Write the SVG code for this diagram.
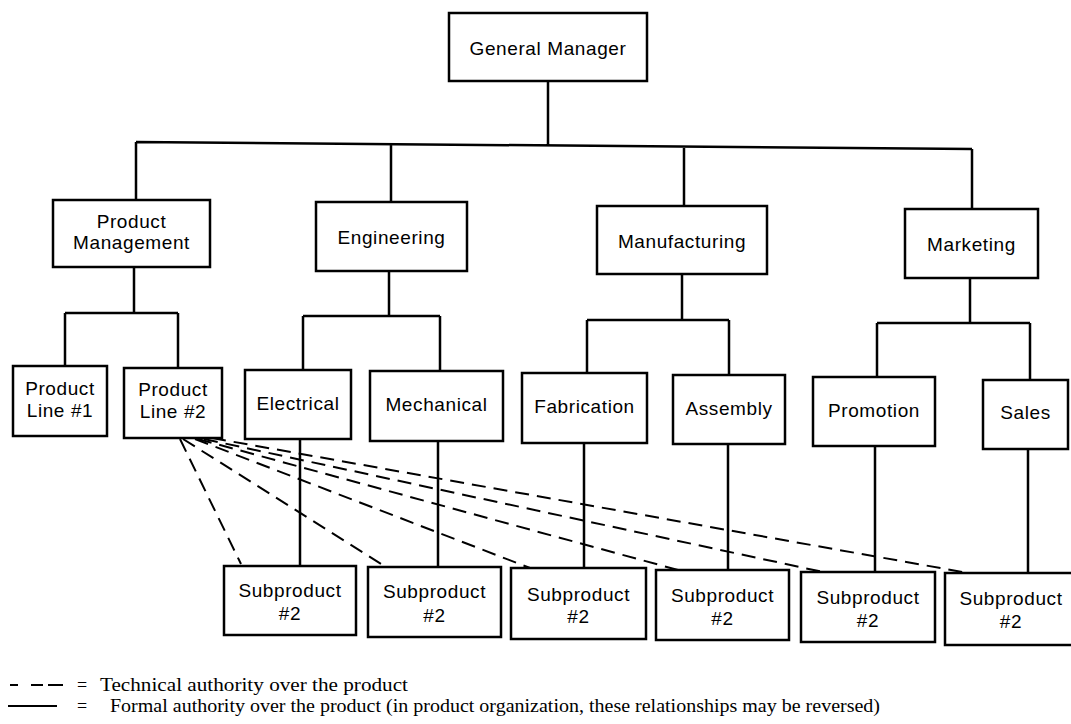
<svg xmlns="http://www.w3.org/2000/svg" width="1071" height="724" viewBox="0 0 1071 724">
  <style>
    .box { fill: #fff; stroke: #000; stroke-width: 2.5; }
    .lbl { font-family: "Liberation Sans", Arial, sans-serif; font-size: 19px; letter-spacing: 0.6px; text-anchor: middle; fill: #000; }
    .solid { fill: none; stroke: #000; stroke-width: 2.5; }
    .dash { fill: none; stroke: #000; stroke-width: 2; stroke-dasharray: 14 8; }
    .legend { font-family: "Liberation Serif", "Times New Roman", serif; font-size: 18px; fill: #000; }
  </style>
  <rect width="1071" height="724" fill="#fff"/>

  <!-- reporting lines (solid) and technical authority (dashed) -->
  <g id="connectors">
    <path class="solid" d="M548 81 V145.4 M136 142 L972 149 M136 142 V200 M391 144.1 V202 M684 146.6 V206 M972 149 V209"/>
    <path class="solid" d="M134 267 V313 M65 313 H178 M65 313 V366 M178 313 V368"/>
    <path class="solid" d="M389 271 V316 M303 316 H440 M303 316 V370 M440 316 V371"/>
    <path class="solid" d="M682 274 V320 M587 320 H729 M587 320 V373 M729 320 V375"/>
    <path class="solid" d="M970 278 V323 M877 323 H1030 M877 323 V377 M1030 323 V380"/>
    <path class="solid" d="M300 439 V566 M438 441 V567 M584 443 V568 M728 444 V570 M875 446 V572 M1028 449 V573"/>
    <path class="dash" d="M180 439 L241 564"/>
    <path class="dash" d="M183 439 L386 567"/>
    <path class="dash" d="M195 439 L530 568"/>
    <path class="dash" d="M198 439 L678 570"/>
    <path class="dash" d="M204 439 L823 572"/>
    <path class="dash" d="M212 438 L968 573"/>
  </g>

  <g id="general-manager">
    <rect class="box" x="449" y="13" width="198" height="68"/>
    <text class="lbl" x="548" y="55">General Manager</text>
  </g>

  <g id="product-management">
    <rect class="box" x="53" y="200" width="157" height="67"/>
    <text class="lbl" x="131.5" y="228">Product</text>
    <text class="lbl" x="131.5" y="249">Management</text>
  </g>
  <g id="engineering">
    <rect class="box" x="316" y="202" width="151" height="69"/>
    <text class="lbl" x="391.5" y="244">Engineering</text>
  </g>
  <g id="manufacturing">
    <rect class="box" x="597" y="206" width="170" height="68"/>
    <text class="lbl" x="682" y="248">Manufacturing</text>
  </g>
  <g id="marketing">
    <rect class="box" x="905" y="209" width="133" height="69"/>
    <text class="lbl" x="971.5" y="251">Marketing</text>
  </g>

  <g id="product-line-1">
    <rect class="box" x="13" y="366" width="94" height="70"/>
    <text class="lbl" x="60" y="395">Product</text>
    <text class="lbl" x="60" y="417">Line #1</text>
  </g>
  <g id="product-line-2">
    <rect class="box" x="124" y="368" width="98" height="70"/>
    <text class="lbl" x="173" y="396">Product</text>
    <text class="lbl" x="173" y="418">Line #2</text>
  </g>
  <g id="electrical">
    <rect class="box" x="245" y="370" width="106" height="69"/>
    <text class="lbl" x="298" y="410">Electrical</text>
  </g>
  <g id="mechanical">
    <rect class="box" x="370" y="371" width="133" height="70"/>
    <text class="lbl" x="436.5" y="411">Mechanical</text>
  </g>
  <g id="fabrication">
    <rect class="box" x="522" y="373" width="125" height="70"/>
    <text class="lbl" x="584.5" y="413">Fabrication</text>
  </g>
  <g id="assembly">
    <rect class="box" x="673" y="375" width="112" height="69"/>
    <text class="lbl" x="729" y="415">Assembly</text>
  </g>
  <g id="promotion">
    <rect class="box" x="813" y="377" width="122" height="69"/>
    <text class="lbl" x="874" y="417">Promotion</text>
  </g>
  <g id="sales">
    <rect class="box" x="983" y="380" width="85" height="69"/>
    <text class="lbl" x="1025.5" y="419">Sales</text>
  </g>

  <g id="subproduct-electrical">
    <rect class="box" x="224" y="566" width="132" height="69"/>
    <text class="lbl" x="290" y="597">Subproduct</text>
    <text class="lbl" x="290" y="620">#2</text>
  </g>
  <g id="subproduct-mechanical">
    <rect class="box" x="368" y="567" width="133" height="70"/>
    <text class="lbl" x="434.5" y="598">Subproduct</text>
    <text class="lbl" x="434.5" y="622">#2</text>
  </g>
  <g id="subproduct-fabrication">
    <rect class="box" x="511" y="568" width="135" height="71"/>
    <text class="lbl" x="578.5" y="601">Subproduct</text>
    <text class="lbl" x="578.5" y="623">#2</text>
  </g>
  <g id="subproduct-assembly">
    <rect class="box" x="656" y="570" width="133" height="70"/>
    <text class="lbl" x="722.5" y="602">Subproduct</text>
    <text class="lbl" x="722.5" y="625">#2</text>
  </g>
  <g id="subproduct-promotion">
    <rect class="box" x="801" y="572" width="134" height="70"/>
    <text class="lbl" x="868" y="604">Subproduct</text>
    <text class="lbl" x="868" y="627">#2</text>
  </g>
  <g id="subproduct-sales">
    <rect class="box" x="945" y="573" width="130" height="72"/>
    <text class="lbl" x="1011" y="605">Subproduct</text>
    <text class="lbl" x="1011" y="628">#2</text>
  </g>

  <!-- key -->
  <g id="legend">
    <path fill="none" stroke="#000" stroke-width="2" d="M10 685 H18 M31 685 H43 M48 685 H63"/>
    <text class="legend" x="77" y="691">=</text>
    <text class="legend" x="100" y="691" textLength="308" lengthAdjust="spacingAndGlyphs">Technical authority over the product</text>
    <path fill="none" stroke="#000" stroke-width="2" d="M8 706 H57"/>
    <text class="legend" x="77" y="712">=</text>
    <text class="legend" x="110" y="712" textLength="770" lengthAdjust="spacingAndGlyphs">Formal authority over the product (in product organization, these relationships may be reversed)</text>
  </g>
</svg>
